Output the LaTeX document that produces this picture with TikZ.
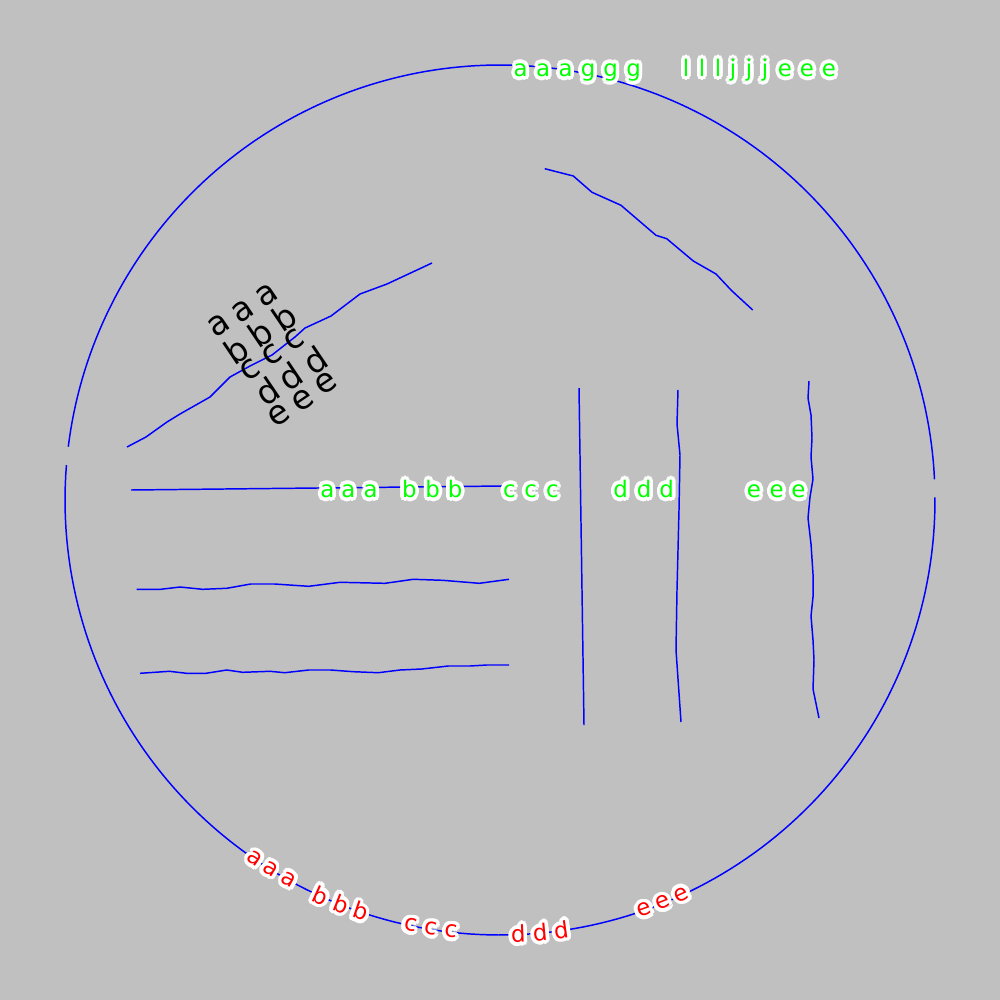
\documentclass[tikz,border=0pt]{standalone}
\usepackage{fontspec}
\setmainfont{DejaVu Sans}
\usepackage[copies]{contour}
\contourlength{1.05pt}
\definecolor{bgray}{RGB}{192,192,192}
\definecolor{lblue}{RGB}{0,0,255}
\definecolor{lgreen}{RGB}{0,255,0}
\definecolor{lred}{RGB}{255,0,0}
\begin{document}
\begin{tikzpicture}[x=0.01cm,y=-0.01cm,
  blueline/.style={draw=lblue, line width=0.42pt, line join=round},
  greenlbl/.style={anchor=base, inner sep=0pt, text=lgreen, font=\fontsize{6.5}{7}\selectfont},
  redlbl/.style={anchor=center, inner sep=0pt, text=lred, font=\fontsize{6.5}{7}\selectfont},
  blacklbl/.style={anchor=center, inner sep=0pt, text=black, rotate=34, font=\fontsize{9.5}{10}\selectfont}]
\fill[bgray] (0,0) rectangle (1000,1000);
\useasboundingbox (0,0) rectangle (1000,1000);
% circle in two arcs
\draw[blueline] plot[domain=2.72:172.96, samples=150] ({500+435*cos(\x)},{500-435*sin(\x)});
\draw[blueline] plot[domain=175.4:360.36, samples=150] ({500+435*cos(\x)},{500-435*sin(\x)});
% upper right polyline
\draw[blueline] (544.7,168.7) -- (573.3,176) -- (592,192.3) -- (621,205.3) -- (656,235.3) -- (666.7,238.7) -- (693.3,261) -- (716,274) -- (731.7,290.7) -- (752.7,310);
% diagonal polyline
\draw[blueline] (127,447) -- (146,437) -- (167,422) -- (180,414) -- (210,397) -- (230,377) -- (250,366) -- (272,355) -- (295,337) -- (305,328) -- (331,316) -- (360,294) -- (387,284) -- (432,263);
% horizontal straight line
\draw[blueline] (131,490) -- (503,486);
% wavy lines
\draw[blueline] (136.7,589.3) -- (160.7,589.3) -- (180,587) -- (202.7,589.3) -- (226.7,588.3) -- (250.7,584) -- (274.7,584) -- (308.7,586.3) -- (340,582.3) -- (385,583.3) -- (413.3,579.3) -- (442.7,580.3) -- (479.3,583.3) -- (509,579.3);
\draw[blueline] (140,673.3) -- (169.3,671.3) -- (186.7,673.3) -- (206,673.3) -- (226.7,670) -- (242.7,672.3) -- (270,671.3) -- (284.7,672.7) -- (308.7,670) -- (330.7,670) -- (353.3,671.7) -- (378.3,672.7) -- (400,670) -- (421.7,669) -- (448.3,666) -- (470,666) -- (486.7,665) -- (509,665);
% vertical lines
\draw[blueline] (579,388) -- (584,725);
\draw[blueline] (678,390) -- (677,424) -- (680,455) -- (679,510) -- (677,590) -- (676,650) -- (681,722);
\draw[blueline] (809,381) -- (808,398) -- (811,415) -- (812,438) -- (811,457) -- (813,479) -- (810,497) -- (808,518) -- (811,544) -- (813,574) -- (813,597) -- (811,616) -- (813,640) -- (814,660) -- (813,689) -- (819,718);
% top green labels
\foreach \ch/\x [count=\i] in {a/520.7,a/543,a/565.5,g/588,g/610.5,g/633.5,l/686,l/702,l/718,j/733,j/749,j/765,e/785,e/807,e/829}
  \node[greenlbl] (top\i) at (\x,76.5) {\contour{white}{\ch}};
% green labels on horizontal line
\foreach \ch/\x [count=\i] in {a/327.3,a/348.3,a/370.7,b/409.3,b/432.7,b/455,c/509.3,c/530.7,c/552.3,d/620.7,d/644,d/666.7,e/754,e/776.7,e/798.3}
  \node[greenlbl] (mid\i) at (\x,497.5) {\contour{white}{\ch}};
% red labels along the bottom of the circle
\foreach \ch/\t [count=\i] in {a/235.65,a/238.1,a/240.9,b/245.6,b/248.5,b/251.3,c/258.1,c/260.8,c/263.5,d/272.4,d/275.3,d/278.1,e/289.4,e/292,e/294.7}
  \node[redlbl, rotate=\t+90] (bot\i) at ({500+436*cos(\t)},{500-436*sin(\t)}) {\contour{white}{\ch}};
% black rotated letters
\foreach \ch/\x/\y [count=\i] in {a/219.3/325,a/243.3/311.7,a/266.7/295,
  b/236/350,b/260/333,b/284/317,
  c/250/370,c/272/355,c/294/340,
  d/267/391.7,d/290/376.7,d/315/360,
  e/279.3/415,e/303.3/400,e/326/383.3}
  \node[blacklbl] (blk\i) at (\x,\y) {\ch};
\end{tikzpicture}
\end{document}
